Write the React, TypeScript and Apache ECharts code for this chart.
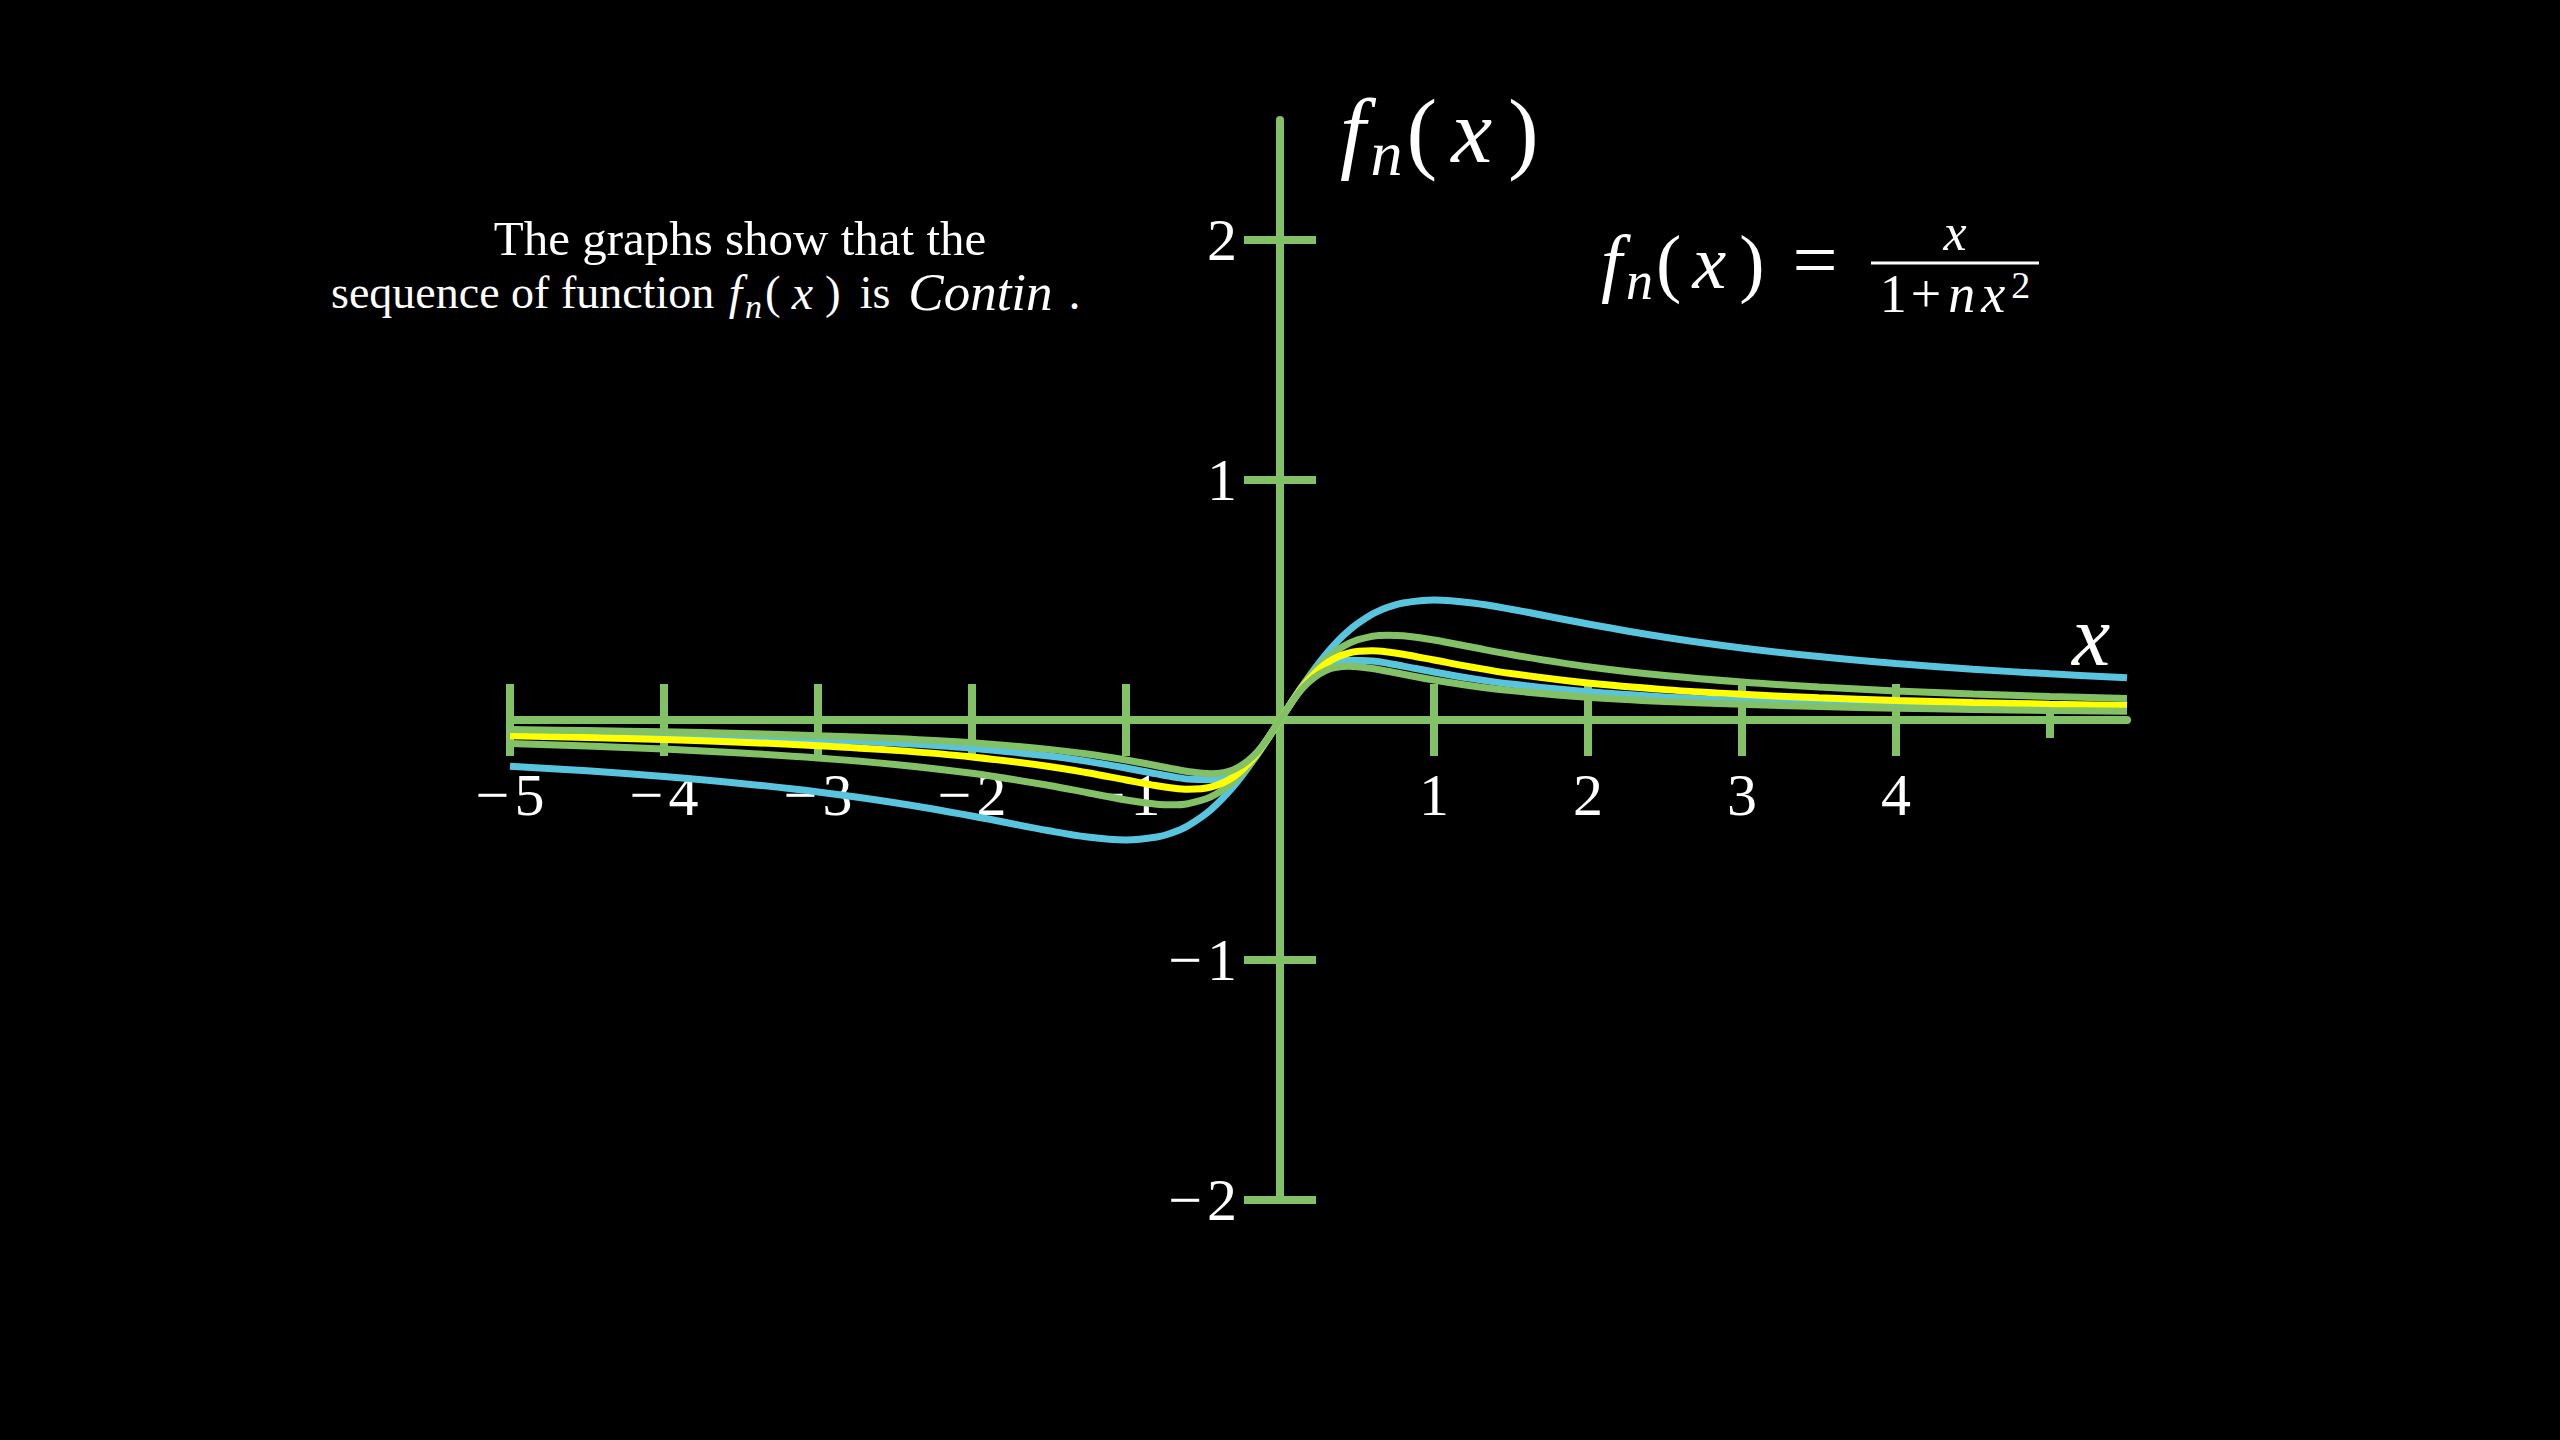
import React, { useEffect, useRef } from "react";
import * as echarts from "echarts";

// ---- data ----
const X_SAMPLES = [
  -5, -4.5, -4, -3.5, -3, -2.5, -2, -1.5, -1.25, -1, -0.8, -0.7, -0.6, -0.45, -0.3, -0.15,
  0, 0.15, 0.3, 0.45, 0.6, 0.7, 0.8, 1, 1.25, 1.5, 2, 2.5, 3, 3.5, 4, 4.5, 5, 5.5,
];
const F1 = [
  -0.1923, -0.2118, -0.2353, -0.2642, -0.3, -0.3448, -0.4, -0.4615, -0.4878, -0.5, -0.4878, -0.4698, -0.4412, -0.3742, -0.2752, -0.1467,
  0, 0.1467, 0.2752, 0.3742, 0.4412, 0.4698, 0.4878, 0.5, 0.4878, 0.4615, 0.4, 0.3448, 0.3, 0.2642, 0.2353, 0.2118, 0.1923, 0.176,
];
const F2 = [
  -0.098, -0.1084, -0.1212, -0.1373, -0.1579, -0.1852, -0.2222, -0.2727, -0.303, -0.3333, -0.3509, -0.3535, -0.3488, -0.3203, -0.2542, -0.1435,
  0, 0.1435, 0.2542, 0.3203, 0.3488, 0.3535, 0.3509, 0.3333, 0.303, 0.2727, 0.2222, 0.1852, 0.1579, 0.1373, 0.1212, 0.1084, 0.098, 0.0894,
];
const F3 = [
  -0.0658, -0.0729, -0.0816, -0.0927, -0.1071, -0.1266, -0.1538, -0.1935, -0.2198, -0.25, -0.274, -0.2834, -0.2885, -0.2799, -0.2362, -0.1405,
  0, 0.1405, 0.2362, 0.2799, 0.2885, 0.2834, 0.274, 0.25, 0.2198, 0.1935, 0.1538, 0.1266, 0.1071, 0.0927, 0.0816, 0.0729, 0.0658, 0.0599,
];
const F4 = [
  -0.0495, -0.0549, -0.0615, -0.07, -0.0811, -0.0962, -0.1176, -0.15, -0.1724, -0.2, -0.2247, -0.2365, -0.2459, -0.2486, -0.2206, -0.1376,
  0, 0.1376, 0.2206, 0.2486, 0.2459, 0.2365, 0.2247, 0.2, 0.1724, 0.15, 0.1176, 0.0962, 0.0811, 0.07, 0.0615, 0.0549, 0.0495, 0.0451,
];
const F5 = [
  -0.0397, -0.044, -0.0494, -0.0562, -0.0652, -0.0775, -0.0952, -0.1224, -0.1418, -0.1667, -0.1905, -0.2029, -0.2143, -0.2236, -0.2069, -0.1348,
  0, 0.1348, 0.2069, 0.2236, 0.2143, 0.2029, 0.1905, 0.1667, 0.1418, 0.1224, 0.0952, 0.0775, 0.0652, 0.0562, 0.0494, 0.044, 0.0397, 0.0361,
];

const X_TICKS = [-5, -4, -3, -2, -1, 1, 2, 3, 4, 5];
const X_LABELS = [-5, -4, -3, -2, -1, 1, 2, 3, 4];
const Y_TICKS = [-2, -1, 1, 2];
const Y_LABELS = [-2, -1, 1, 2];

const TITLE_LINE_1 = "The graphs show that the";

// ---- styles ----
const GREEN = "#83C167";
const BLUE = "#58C4DD";
const YELLOW = "#FFFF00";
const WHITE = "#FFFFFF";
const SERIF = '"Liberation Serif", "Times New Roman", serif';

const fmtRich = (v: number) =>
  v < 0 ? "{m|\u2212}{d|" + Math.abs(v) + "}" : "{d|" + v + "}";
const pairs = (ys: number[]) => X_SAMPLES.map((x, i) => [x, ys[i]]);

const tok = (size: number, italic: boolean, lh: number, extra: any = {}) => ({
  fontSize: size,
  fontFamily: SERIF,
  fontStyle: italic ? "italic" : "normal",
  fill: WHITE,
  color: WHITE,
  lineHeight: lh,
  ...extra,
});

const LABEL_RICH = {
  m: tok(60, false, 64, { padding: [0, 5, 0, 0] }),
  d: tok(60, false, 64),
};

function buildOption() {
  const curve = (name: string, ys: number[], color: string) => ({
    name,
    type: "line",
    data: pairs(ys),
    showSymbol: false,
    smooth: 0.35,
    z: 3,
    lineStyle: { color, width: 7, cap: "butt" },
    emphasis: { disabled: true },
    silent: true,
  });

  const xTickData = X_TICKS.map((v) => [v, X_LABELS.includes(v) ? 1 : 0]);
  const yTickData = Y_TICKS.map((v) => [0, v, Y_LABELS.includes(v) ? 1 : 0]);

  return {
    animation: false,
    backgroundColor: "#000000",
    grid: { left: 510, top: 120, width: 1617, height: 1080, containLabel: false },
    xAxis: {
      type: "value",
      min: -5,
      max: 5.5,
      axisLine: { onZero: true, lineStyle: { color: GREEN, width: 8 } },
      axisTick: { show: false },
      axisLabel: { show: false },
      splitLine: { show: false },
    },
    yAxis: {
      type: "value",
      min: -2,
      max: 2.5,
      axisLine: { onZero: true, lineStyle: { color: GREEN, width: 8 } },
      axisTick: { show: false },
      axisLabel: { show: false },
      splitLine: { show: false },
    },
    series: [
      {
        type: "custom",
        name: "xTicks",
        coordinateSystem: "cartesian2d",
        z: 1,
        silent: true,
        data: xTickData,
        renderItem: (_p: any, api: any) => {
          const v = api.value(0);
          const labeled = api.value(1) === 1;
          const p = api.coord([v, 0]);
          const len = labeled ? 36 : 18;
          const children: any[] = [
            {
              type: "line",
              shape: { x1: p[0], y1: p[1] - len, x2: p[0], y2: p[1] + len },
              style: { stroke: GREEN, lineWidth: 8 },
            },
          ];
          if (labeled) {
            children.push({
              type: "text",
              x: p[0],
              y: p[1] + 75,
              style: {
                text: fmtRich(v),
                rich: LABEL_RICH,
                fill: WHITE,
                align: "center",
                verticalAlign: "middle",
              },
            });
          }
          return { type: "group", children };
        },
      },
      {
        type: "custom",
        name: "yTicks",
        coordinateSystem: "cartesian2d",
        z: 1,
        silent: true,
        data: yTickData,
        renderItem: (_p: any, api: any) => {
          const v = api.value(1);
          const labeled = api.value(2) === 1;
          const p = api.coord([0, v]);
          const len = labeled ? 36 : 18;
          const children: any[] = [
            {
              type: "line",
              shape: { x1: p[0] - len, y1: p[1], x2: p[0] + len, y2: p[1] },
              style: { stroke: GREEN, lineWidth: 8 },
            },
          ];
          if (labeled) {
            children.push({
              type: "text",
              x: p[0] - 43,
              y: p[1],
              style: {
                text: fmtRich(v),
                rich: LABEL_RICH,
                fill: WHITE,
                align: "right",
                verticalAlign: "middle",
              },
            });
          }
          return { type: "group", children };
        },
      },
      curve("n = 1", F1, BLUE),
      curve("n = 2", F2, GREEN),
      curve("n = 4", F4, BLUE),
      curve("n = 3", F3, YELLOW),
      curve("n = 5", F5, GREEN),
    ],
    graphic: [
      {
        type: "text",
        x: 740,
        y: 238,
        silent: true,
        style: {
          text: TITLE_LINE_1,
          fill: WHITE,
          fontSize: 49,
          fontFamily: SERIF,
          align: "center",
          verticalAlign: "middle",
        },
      },
      {
        type: "text",
        x: 331,
        y: 292,
        silent: true,
        style: {
          text: "{r|sequence of function }{i|f}{s|n}{p|(}{x|x}{p|)}{w|is}{c|Contin}{d|.}",
          fill: WHITE,
          align: "left",
          verticalAlign: "middle",
          rich: {
            r: tok(46, false, 62),
            p: tok(47, false, 62, { padding: [0, 3, 0, 3] }),
            i: tok(48, true, 62, { padding: [0, 3, 0, 3] }),
            x: tok(48, true, 62, { padding: [0, 9, 0, 8] }),
            w: tok(46, false, 62, { padding: [0, 18, 0, 16] }),
            c: tok(53, true, 62),
            d: tok(48, false, 62, { padding: [0, 0, 0, 16] }),
            s: tok(34, true, 38, { verticalAlign: "bottom" }),
          },
        },
      },
      // formula f_n(x) = x / (1 + n x^2)
      {
        type: "text",
        x: 1597,
        y: 262,
        silent: true,
        style: {
          text: "{i|f}{s|n}{p|(}{x|x}{p|)}",
          fill: WHITE,
          align: "left",
          verticalAlign: "middle",
          rich: {
            p: tok(76, false, 92, { padding: [0, 3, 0, 3] }),
            i: tok(76, true, 92, { padding: [0, 4, 0, 4] }),
            x: tok(76, true, 92, { padding: [0, 10, 0, 8] }),
            s: tok(54, true, 58, { verticalAlign: "bottom" }),
          },
        },
      },
      {
        type: "text",
        x: 1815,
        y: 260,
        silent: true,
        style: { text: "=", fill: WHITE, fontSize: 80, fontFamily: SERIF, align: "center", verticalAlign: "middle" },
      },
      {
        type: "line",
        silent: true,
        shape: { x1: 1871, y1: 263, x2: 2039, y2: 263 },
        style: { stroke: WHITE, lineWidth: 3 },
      },
      {
        type: "text",
        x: 1955,
        y: 232,
        silent: true,
        style: { text: "x", fill: WHITE, fontSize: 52, fontStyle: "italic", fontFamily: SERIF, align: "center", verticalAlign: "middle" },
      },
      {
        type: "text",
        x: 1955,
        y: 294,
        silent: true,
        style: {
          text: "{r|1}{o|+}{i|n}{x|x}{u|2}",
          fill: WHITE,
          align: "center",
          verticalAlign: "middle",
          rich: {
            r: tok(54, false, 56),
            o: tok(54, false, 56, { padding: [0, 4, 0, 4] }),
            i: tok(54, true, 56, { padding: [0, 3, 0, 3] }),
            x: tok(54, true, 56, { padding: [0, 6, 0, 3] }),
            u: tok(38, false, 40, { verticalAlign: "top" }),
          },
        },
      },
      // axis names
      {
        type: "text",
        x: 1335,
        y: 131,
        silent: true,
        style: {
          text: "{i|f}{s|n}{p|(}{x|x}{p|)}",
          fill: WHITE,
          align: "left",
          verticalAlign: "middle",
          rich: {
            p: tok(92, false, 108, { padding: [0, 4, 0, 4] }),
            i: tok(92, true, 108, { padding: [0, 5, 0, 5] }),
            x: tok(92, true, 108, { padding: [0, 12, 0, 10] }),
            s: tok(64, true, 68, { verticalAlign: "bottom" }),
          },
        },
      },
      {
        type: "text",
        x: 2091,
        y: 636,
        silent: true,
        style: { text: "x", fill: WHITE, fontSize: 86, fontStyle: "italic", fontFamily: SERIF, align: "center", verticalAlign: "middle" },
      },
    ],
  };
}

export default function App() {
  const ref = useRef<HTMLDivElement>(null);
  useEffect(() => {
    if (!ref.current) return;
    const chart = echarts.init(ref.current, null, { renderer: "svg" });
    chart.setOption(buildOption() as any);
    return () => chart.dispose();
  }, []);
  return (
    <div
      ref={ref}
      style={{ position: "fixed", left: 0, top: 0, width: 2560, height: 1440, background: "#000" }}
    />
  );
}
